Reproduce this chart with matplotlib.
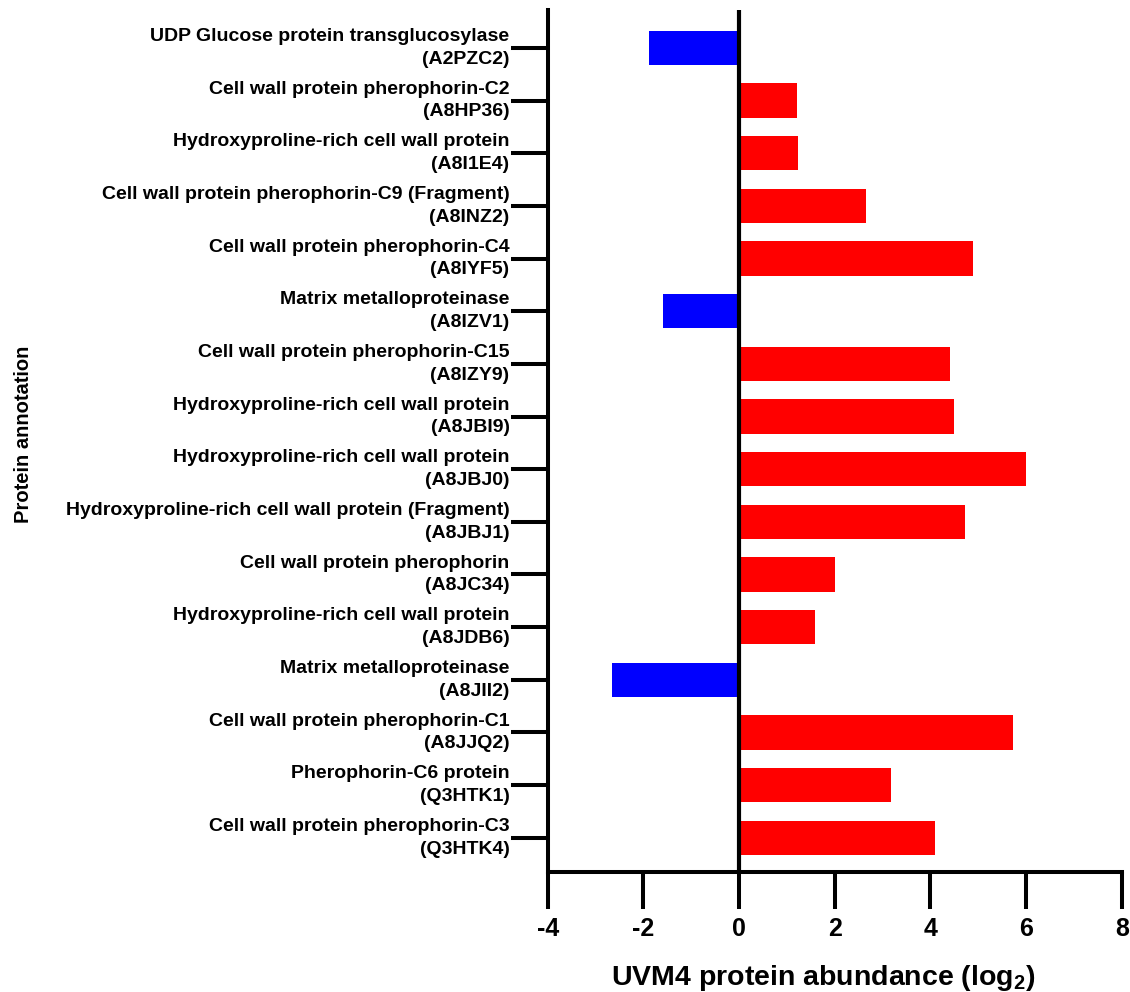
import numpy as np
import matplotlib.pyplot as plt
import matplotlib.transforms as mtransforms

plt.rcParams['font.family'] = ['Liberation Sans', 'DejaVu Sans']
plt.rcParams['font.weight'] = 'bold'
plt.rcParams['mathtext.fontset'] = 'custom'
plt.rcParams['mathtext.rm'] = 'Liberation Sans:bold'
plt.rcParams['mathtext.bf'] = 'Liberation Sans:bold'

# protein names and UniProt accessions, top to bottom
names = [
    "UDP Glucose protein transglucosylase",
    "Cell wall protein pherophorin-C2",
    "Hydroxyproline-rich cell wall protein",
    "Cell wall protein pherophorin-C9 (Fragment)",
    "Cell wall protein pherophorin-C4",
    "Matrix metalloproteinase",
    "Cell wall protein pherophorin-C15",
    "Hydroxyproline-rich cell wall protein",
    "Hydroxyproline-rich cell wall protein",
    "Hydroxyproline-rich cell wall protein (Fragment)",
    "Cell wall protein pherophorin",
    "Hydroxyproline-rich cell wall protein",
    "Matrix metalloproteinase",
    "Cell wall protein pherophorin-C1",
    "Pherophorin-C6 protein",
    "Cell wall protein pherophorin-C3",
]
accessions = [
    "A2PZC2", "A8HP36", "A8I1E4", "A8INZ2", "A8IYF5", "A8IZV1", "A8IZY9", "A8JBI9",
    "A8JBJ0", "A8JBJ1", "A8JC34", "A8JDB6", "A8JII2", "A8JJQ2", "Q3HTK1", "Q3HTK4",
]
log2_abundance = [
    -1.89, 1.21, 1.24, 2.66, 4.89, -1.60, 4.41, 4.49,
    6.00, 4.73, 2.00, 1.58, -2.65, 5.72, 3.17, 4.10,
]
x_ticks = [-4, -2, 0, 2, 4, 6, 8]

labels = [f"{n}\n({a})" for n, a in zip(names, accessions)]
values = np.array(log2_abundance)
ypos = np.arange(len(values))
colors = np.where(values < 0, '#0000FF', '#FF0000')

fig = plt.figure(figsize=(11.3, 9.92), dpi=100)
ax = fig.add_axes([547.7 / 1130, 120 / 992, 574 / 1130, 862 / 992])

ax.barh(ypos, values, height=0.655, color=colors, zorder=2)
ax.axvline(0, color='black', lw=3.0, zorder=3)

ax.set_xlim(-4, 8)
ax.set_ylim(15.65, -0.72)
ax.set_xticks(x_ticks)
ax.set_xticklabels([str(t) for t in x_ticks])
ax.set_yticks(ypos)
ax.set_yticklabels(labels, fontsize=14, ha='right', va='center', linespacing=1.45)

# nudge the two-line protein labels slightly below their ticks
shift = mtransforms.ScaledTranslation(0, -3 / 100, fig.dpi_scale_trans)
for lbl in ax.get_yticklabels():
    lbl.set_transform(lbl.get_transform() + shift)

for side in ['top', 'right']:
    ax.spines[side].set_visible(False)
for side in ['left', 'bottom']:
    ax.spines[side].set_linewidth(2.9)

ax.tick_params(axis='y', length=26.5, width=2.9, pad=1)
ax.tick_params(axis='x', length=26.5, width=2.9, pad=6, labelsize=18)

ax.set_xlabel(r'UVM4 protein abundance (log$_\mathbf{2}$)', fontsize=20.5, fontweight='bold')
ax.xaxis.label.set_va('bottom')
ax.xaxis.set_label_coords(0.48, -0.14)
ax.set_ylabel('Protein annotation', fontsize=14.5, fontweight='bold')
ax.yaxis.set_label_coords(-0.896, 0.508)

fig.savefig('out.png', dpi=100)
